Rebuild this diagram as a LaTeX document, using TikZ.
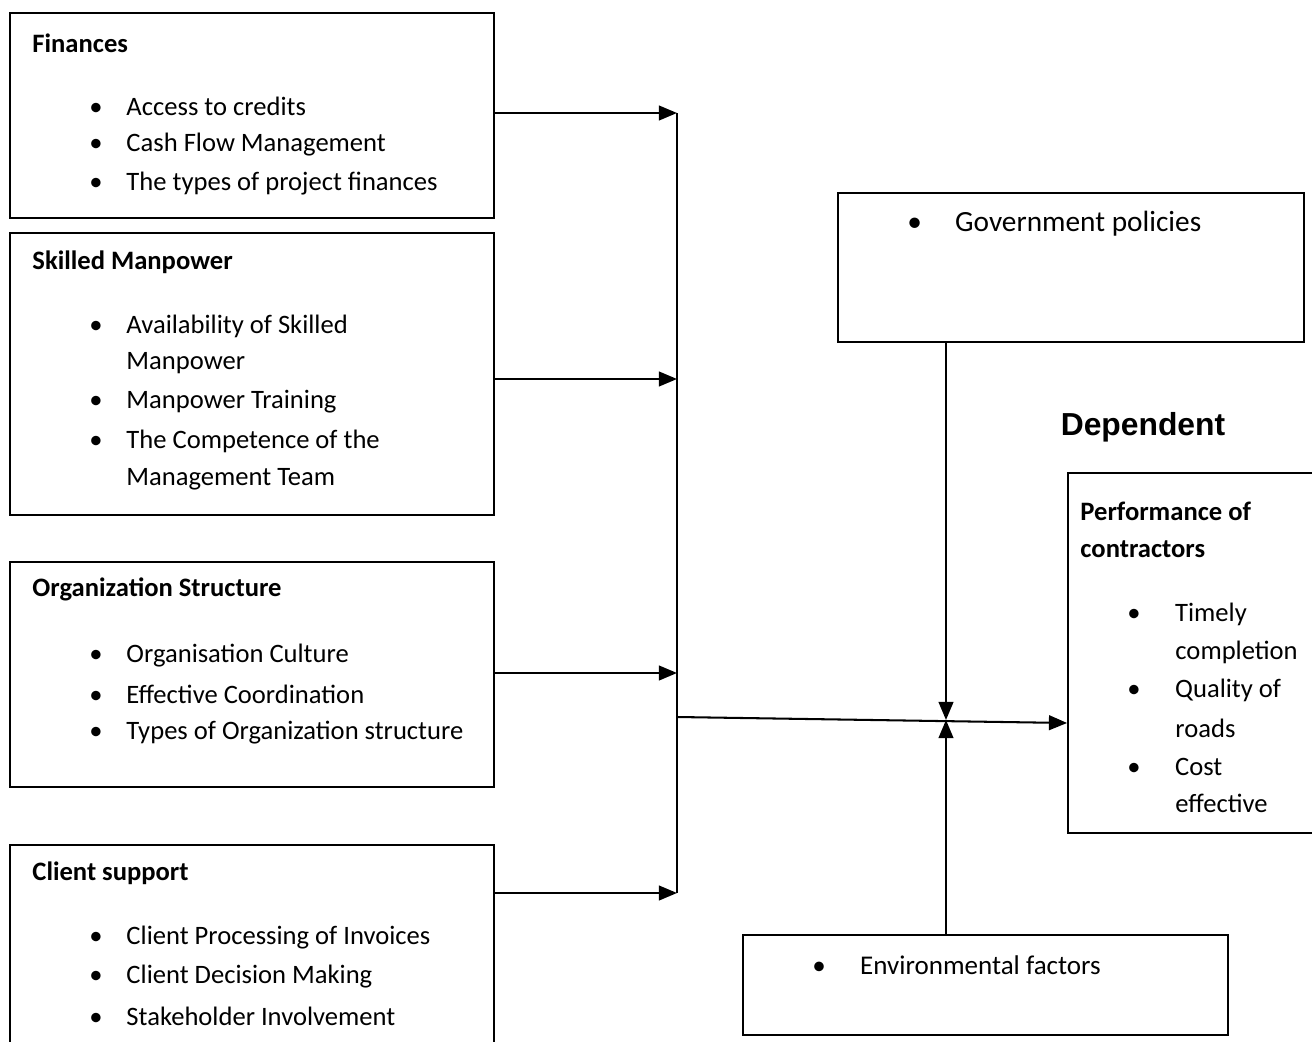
\documentclass[tikz,border=0pt]{standalone}
\usepackage{fontspec}
\setmainfont{Carlito}
\newfontfamily\arialfont{Liberation Sans}
\usetikzlibrary{arrows.meta,fit}
\tikzset{
  factorbox/.style={draw, line width=0.8pt, inner sep=0pt},
  head/.style={anchor=west, inner sep=0pt, font=\bfseries\fontsize{11.7}{13}\selectfont},
  item/.style={anchor=west, inner sep=0pt, font=\fontsize{11.7}{13}\selectfont},
  link/.style={line width=0.9pt, -{Triangle[length=8pt,width=6.5pt]}},
}
\newcommand{\bul}[2][16.3pt]{\makebox[#1][l]{\textbullet}#2}

\begin{document}
\begin{tikzpicture}[x=0.44pt, y=-0.44pt]
\useasboundingbox (0,0) rectangle (1312,1042);

% independent factors
\node[factorbox, fit={(10,13) (494,218)}] (fin) {};
\node[head] (finh) at (32,43) {Finances};
\node[item] (fin1) at (89,106) {\bul{Access to credits}};
\node[item] (fin2) at (89,145) {\bul{Cash Flow Management}};
\node[item] (fin3) at (89,184) {\bul{The types of project finances}};

\node[factorbox, fit={(10,233) (494,515)}] (man) {};
\node[head] (manh) at (32,262) {Skilled Manpower};
\node[item] (man1) at (89,326) {\bul{Availability of Skilled}};
\node[item] (man2) at (126,363) {Manpower};
\node[item] (man3) at (89,402) {\bul{Manpower Training}};
\node[item] (man4) at (89,441) {\bul{The Competence of the}};
\node[item] (man5) at (126,479) {Management Team};

\node[factorbox, fit={(10,562) (494,787)}] (org) {};
\node[head] (orgh) at (32,589) {Organization Structure};
\node[item] (org1) at (89,656) {\bul{Organisation Culture}};
\node[item] (org2) at (89,694) {\bul{Effective Coordination}};
\node[item] (org3) at (89,733) {\bul{Types of Organization structure}};

\node[factorbox, fit={(10,845) (494,1060)}] (cli) {};
\node[head] (clih) at (32,873) {Client support};
\node[item] (cli1) at (89,938) {\bul{Client Processing of Invoices}};
\node[item] (cli2) at (89,977) {\bul{Client Decision Making}};
\node[item] (cli3) at (89,1016) {\bul{Stakeholder Involvement}};

% moderating factors
\node[factorbox, fit={(838,193) (1304,342)}] (gov) {};
\node[item, font=\fontsize{12.9}{15}\selectfont] (govt) at (907,224) {\bul[21pt]{Government policies}};

\node[factorbox, fit={(743,935) (1228,1035)}] (env) {};
\node[item, font=\fontsize{11.9}{14}\selectfont] (envt) at (812,965) {\bul[21pt]{Environmental factors}};

% dependent variable
\node[font=\arialfont\bfseries\fontsize{14}{16}\selectfont] (dep) at (1143,427) {Dependent};
\node[factorbox, fit={(1068,473) (1330,833)}] (perf) {};
\node[head] (perfh1) at (1080,511) {Performance of};
\node[head] (perfh2) at (1080,549) {contractors};
\node[item] (perf1) at (1127,614) {\bul[21pt]{Timely}};
\node[item] (perf2) at (1175,652) {completion};
\node[item] (perf3) at (1127,690) {\bul[21pt]{Quality of}};
\node[item] (perf4) at (1175,728) {roads};
\node[item] (perf5) at (1127,767) {\bul[21pt]{Cost}};
\node[item] (perf6) at (1175,803) {effective};

% connectors
\coordinate (bus1) at (677,113);
\coordinate (bus2) at (677,379);
\coordinate (bus3) at (677,673);
\coordinate (bus4) at (677,893);
\coordinate (busm) at (677,717);
\coordinate (join) at (946,720);

\draw[link] (fin.east |- bus1) -- (bus1);
\draw[link] (man.east |- bus2) -- (bus2);
\draw[link] (org.east |- bus3) -- (bus3);
\draw[link] (cli.east |- bus4) -- (bus4);
\draw[line width=0.9pt] (bus1) -- (bus4);
\draw[link] (busm) -- (perf.west |- 0,723);
\draw[link] (gov.south -| join) -- (join);
\draw[link] (env.north -| join) -- (join);
\end{tikzpicture}
\end{document}
